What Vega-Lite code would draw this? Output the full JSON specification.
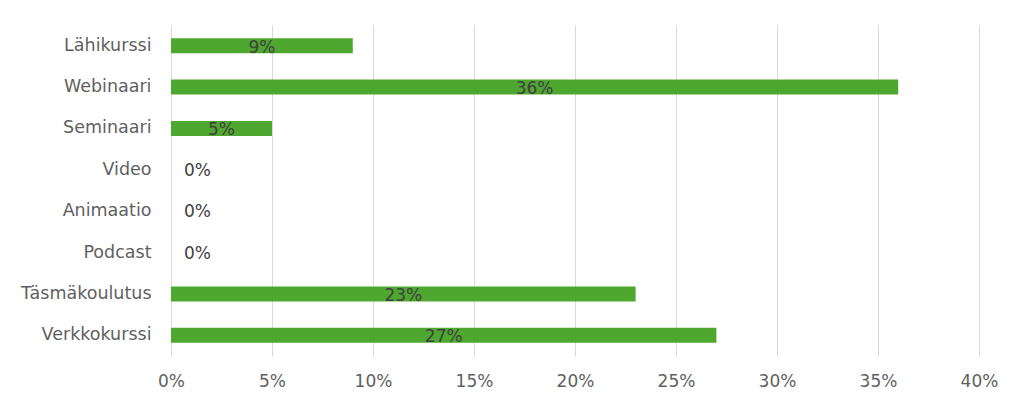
{
  "$schema": "https://vega.github.io/schema/vega-lite/v6.json",
  "width": 808,
  "height": 331,
  "autosize": {"type": "none"},
  "padding": {"left": 171, "top": 25, "right": 45, "bottom": 53},
  "background": "#ffffff",
  "data": {
    "values": [
      {"tyyppi": "Lähikurssi", "osuus": 0.09},
      {"tyyppi": "Webinaari", "osuus": 0.36},
      {"tyyppi": "Seminaari", "osuus": 0.05},
      {"tyyppi": "Video", "osuus": 0},
      {"tyyppi": "Animaatio", "osuus": 0},
      {"tyyppi": "Podcast", "osuus": 0},
      {"tyyppi": "Täsmäkoulutus", "osuus": 0.23},
      {"tyyppi": "Verkkokurssi", "osuus": 0.27}
    ]
  },
  "encoding": {
    "y": {
      "field": "tyyppi",
      "type": "nominal",
      "sort": null,
      "scale": {"paddingInner": 0.64, "paddingOuter": 0.32},
      "axis": {
        "title": null,
        "domain": false,
        "ticks": false,
        "labelPadding": 20,
        "labelFontSize": 17.5,
        "labelFont": "DejaVu Sans",
        "labelColor": "#5f5f5f"
      }
    }
  },
  "layer": [
    {
      "mark": {"type": "bar", "color": "#4ea72e"},
      "encoding": {
        "x": {
          "field": "osuus",
          "type": "quantitative",
          "scale": {"domain": [0, 0.4]},
          "axis": {
            "title": null,
            "format": ".0%",
            "values": [0, 0.05, 0.1, 0.15, 0.2, 0.25, 0.3, 0.35, 0.4],
            "domain": false,
            "ticks": false,
            "labelFlush": false,
            "labelPadding": 17,
            "labelFontSize": 17,
            "labelFont": "DejaVu Sans",
            "labelColor": "#5f5f5f",
            "gridColor": "#d9d9d9",
            "gridWidth": 1
          }
        }
      }
    },
    {
      "transform": [
        {"filter": "datum.osuus > 0"},
        {"calculate": "datum.osuus / 2", "as": "keski"}
      ],
      "mark": {"type": "text", "fontSize": 17, "font": "DejaVu Sans", "color": "#404040", "dy": 2},
      "encoding": {
        "x": {"field": "keski", "type": "quantitative"},
        "text": {"field": "osuus", "type": "quantitative", "format": ".0%"}
      }
    },
    {
      "transform": [{"filter": "datum.osuus == 0"}],
      "mark": {"type": "text", "fontSize": 17, "font": "DejaVu Sans", "color": "#404040", "align": "left", "dx": 13, "dy": 1},
      "encoding": {
        "x": {"field": "osuus", "type": "quantitative"},
        "text": {"field": "osuus", "type": "quantitative", "format": ".0%"}
      }
    }
  ],
  "config": {"view": {"stroke": null}}
}
